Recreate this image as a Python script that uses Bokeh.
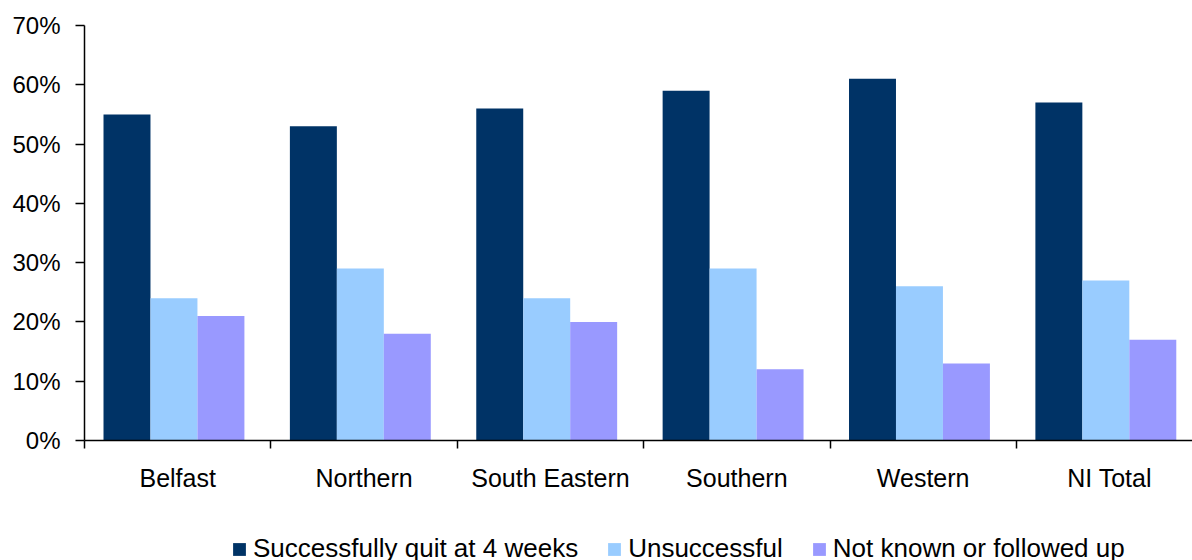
from bokeh.plotting import figure
from bokeh.layouts import column
from bokeh.models import (ColumnDataSource, Range1d, FixedTicker, PrintfTickFormatter,
                          Legend, LegendItem)
from bokeh.embed import file_html
from bokeh.resources import INLINE

# Smoking cessation outcomes by Health and Social Care Trust (%)
regions = ["Belfast", "Northern", "South Eastern", "Southern", "Western", "NI Total"]
successful = [55, 53, 56, 59, 61, 57]
unsuccessful = [24, 29, 24, 29, 26, 27]
not_known = [21, 18, 20, 12, 13, 17]

series_names = ["Successfully quit at 4 weeks", "Unsuccessful", "Not known or followed up"]
series_colors = ["#003366", "#99CCFF", "#9999FF"]

FONT = "Liberation Sans"
BAR_W = 0.252
GROUP_CENTER = 0.48

p = figure(width=1192, height=500, output_backend="svg", toolbar_location=None,
           x_range=Range1d(0, 5.945), y_range=Range1d(0, 70),
           min_border_left=84, min_border_right=0, min_border_top=25,
           min_border_bottom=60)
p.outline_line_color = None
p.grid.visible = False
p.background_fill_color = "white"
p.border_fill_color = "white"

for i, (vals, col) in enumerate(zip([successful, unsuccessful, not_known], series_colors)):
    xs = [k + GROUP_CENTER + (i - 1) * BAR_W for k in range(len(regions))]
    src = ColumnDataSource(dict(x=xs, top=vals, region=regions))
    p.vbar(x="x", top="top", bottom=0, width=BAR_W, source=src,
           fill_color=col, line_color=None)

# y axis
ya = p.yaxis[0]
ya.ticker = FixedTicker(ticks=list(range(0, 71, 10)))
ya.formatter = PrintfTickFormatter(format="%d%%")
ya.major_tick_out = 9
ya.major_tick_in = 0
ya.minor_tick_out = 0
ya.minor_tick_in = 0
ya.major_label_standoff = 15
ya.major_label_text_font = FONT
ya.major_label_text_font_size = "24px"
ya.major_label_text_color = "black"
ya.axis_line_color = "black"
ya.axis_line_width = 1.5
ya.major_tick_line_color = "black"
ya.major_tick_line_width = 1.5

# x axis: labels centred in each category, tick marks at category boundaries
xa = p.xaxis[0]
centers = [k + 0.5 for k in range(len(regions))]
xa.ticker = FixedTicker(ticks=centers, minor_ticks=list(range(0, len(regions) + 1)))
xa.major_label_overrides = {c: name for c, name in zip(centers, regions)}
xa.major_tick_out = 0
xa.major_tick_in = 0
xa.minor_tick_out = 8
xa.minor_tick_in = 0
xa.minor_tick_line_color = "black"
xa.minor_tick_line_width = 1.5
xa.major_label_standoff = 15
xa.major_label_text_font = FONT
xa.major_label_text_font_size = "25px"
xa.major_label_text_color = "black"
xa.axis_line_color = "black"
xa.axis_line_width = 1.5

# legend strip underneath the chart (zero-height swatch bars feed the legend)
lg = figure(width=1192, height=60, output_backend="svg", toolbar_location=None,
            x_range=Range1d(0, 1), y_range=Range1d(0, 1),
            min_border=0, x_axis_location=None, y_axis_location=None)
lg.outline_line_color = None
lg.grid.visible = False
swatches = []
for col in series_colors:
    swatches.append(lg.vbar(x=[0.5], top=[0], bottom=[0], width=0.1,
                            fill_color=col, line_color=None))

legend = Legend(items=[LegendItem(label=name, renderers=[r])
                       for name, r in zip(series_names, swatches)],
                location=(147, -4), orientation="horizontal",
                padding=0, margin=0, spacing=28,
                glyph_width=16, glyph_height=16, label_standoff=6,
                label_text_font=FONT, label_text_font_size="26px",
                label_text_color="black", label_height=16,
                border_line_color=None, background_fill_alpha=0)
lg.add_layout(legend)

open("out.html", "w").write(file_html(column(p, lg, spacing=0), INLINE))
